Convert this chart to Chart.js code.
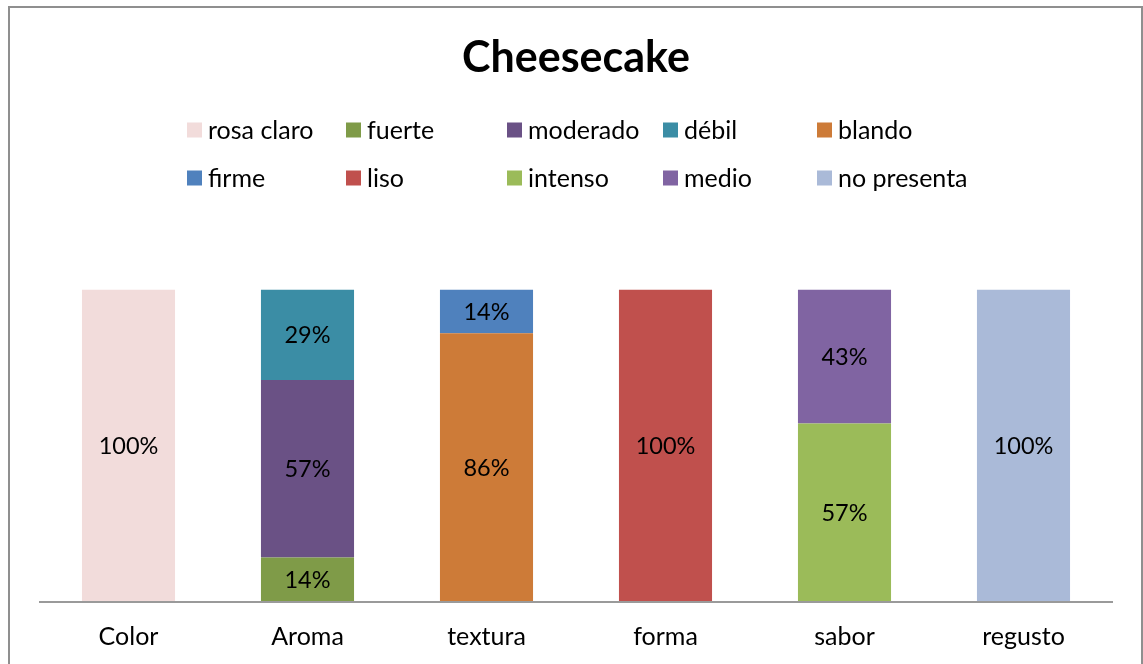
<!DOCTYPE html>
<html>
<head>
<meta charset="utf-8">
<script src="https://cdn.jsdelivr.net/npm/chart.js@4.4.1/dist/chart.umd.min.js"></script>
<style>
  html, body { margin: 0; padding: 0; background: #fff; }
  #wrap { width: 1143px; height: 664px; position: relative; }
</style>
</head>
<body>
<div id="wrap"><canvas id="chart" width="1143" height="664"></canvas></div>
<script>
const categories = ['Color', 'Aroma', 'textura', 'forma', 'sabor', 'regusto'];
const seriesNames = ['rosa claro', 'fuerte', 'moderado', 'débil', 'blando',
                     'firme', 'liso', 'intenso', 'medio', 'no presenta'];
const seriesColors = ['#F2DCDB', '#7F9B48', '#6A5185', '#3B8DA5', '#CD7B38',
                      '#4F81BD', '#C0504D', '#9BBB59', '#8064A2', '#AABAD8'];
// percentage of each descriptor per attribute
const rosaClaro  = [100, 0, 0, 0, 0, 0];
const fuerte     = [0, 14, 0, 0, 0, 0];
const moderado   = [0, 57, 0, 0, 0, 0];
const debil      = [0, 29, 0, 0, 0, 0];
const blando     = [0, 0, 86, 0, 0, 0];
const firme      = [0, 0, 14, 0, 0, 0];
const liso       = [0, 0, 0, 100, 0, 0];
const intenso    = [0, 0, 0, 0, 57, 0];
const medio      = [0, 0, 0, 0, 43, 0];
const noPresenta = [0, 0, 0, 0, 0, 100];
const seriesValues = [rosaClaro, fuerte, moderado, debil, blando,
                      firme, liso, intenso, medio, noPresenta];

const FONT = 'Lato, "Open Sans", sans-serif';

// legend laid out as a 5-column grid, two rows
const legendGrid = {
  id: 'legendGrid',
  afterDraw(chart) {
    const ctx = chart.ctx;
    const cols = [187, 346, 507, 663, 817];
    const rows = [130, 178];
    ctx.save();
    ctx.font = '25px ' + FONT;
    ctx.textBaseline = 'middle';
    ctx.textAlign = 'left';
    chart.data.datasets.forEach((ds, i) => {
      const x = cols[i % 5];
      const y = rows[Math.floor(i / 5)];
      ctx.fillStyle = ds.backgroundColor;
      ctx.fillRect(x, y - 7.5, 15, 15);
      ctx.fillStyle = '#000';
      ctx.fillText(ds.label, x + 21, y + 1);
    });
    ctx.restore();
  }
};

// value labels centred in each bar segment
const barLabels = {
  id: 'barLabels',
  afterDatasetsDraw(chart) {
    const ctx = chart.ctx;
    ctx.save();
    ctx.font = '23.5px ' + FONT;
    ctx.fillStyle = '#000';
    ctx.textAlign = 'center';
    ctx.textBaseline = 'middle';
    chart.data.datasets.forEach((ds, i) => {
      chart.getDatasetMeta(i).data.forEach((bar, j) => {
        const v = ds.data[j];
        if (!v) return;
        const { x, y, base } = bar.getProps(['x', 'y', 'base'], true);
        ctx.fillText(v + '%', x, (y + base) / 2 + 1);
      });
    });
    ctx.restore();
  }
};

// category axis baseline and the outer frame
const frame = {
  id: 'frame',
  afterDraw(chart) {
    const ctx = chart.ctx;
    const { left, right, bottom } = chart.chartArea;
    ctx.save();
    ctx.strokeStyle = '#9a9a9a';
    ctx.lineWidth = 2;
    ctx.beginPath();
    ctx.moveTo(left, bottom + 1);
    ctx.lineTo(right, bottom + 1);
    ctx.stroke();
    ctx.strokeStyle = '#8f8f8f';
    ctx.strokeRect(9, 7, 1133, 700);
    ctx.restore();
  }
};

new Chart(document.getElementById('chart'), {
  type: 'bar',
  data: {
    labels: categories,
    datasets: seriesNames.map((name, i) => ({
      label: name,
      data: seriesValues[i],
      backgroundColor: seriesColors[i],
      borderWidth: 0,
      categoryPercentage: 0.52,
      barPercentage: 1
    }))
  },
  options: {
    responsive: false,
    animation: false,
    layout: { padding: { left: 39, right: 30, top: 0, bottom: 13 } },
    scales: {
      x: {
        stacked: true,
        grid: { display: false, drawTicks: false },
        border: { display: false },
        ticks: { color: '#000', font: { family: FONT, size: 25 }, padding: 21 },
        afterFit(scale) { scale.height = 50; }
      },
      y: {
        stacked: true,
        display: false,
        min: 0,
        max: 100
      }
    },
    plugins: {
      legend: { display: false },
      tooltip: { enabled: false },
      title: {
        display: true,
        text: 'Cheesecake',
        color: '#000',
        font: { family: FONT, size: 43, weight: 'bold' },
        padding: { top: 32, bottom: 206 }
      }
    }
  },
  plugins: [legendGrid, barLabels, frame]
});
</script>
</body>
</html>
